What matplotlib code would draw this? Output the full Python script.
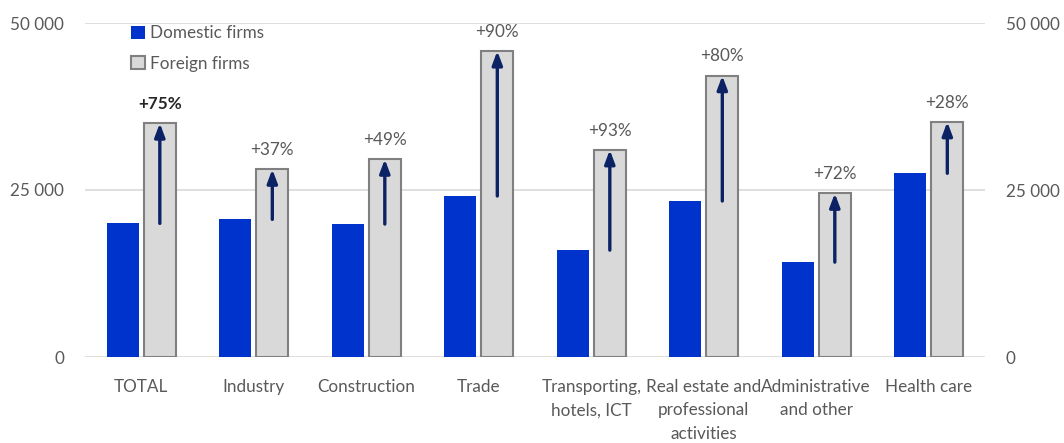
import numpy as np
import matplotlib.pyplot as plt
from matplotlib.ticker import FuncFormatter

categories = ["TOTAL", "Industry", "Construction", "Trade", "Transporting,\nhotels, ICT",
              "Real estate and\nprofessional\nactivities", "Administrative\nand other", "Health care"]
domestic = [20000, 20600, 19900, 24100, 16000, 23350, 14200, 27500]
foreign = [35000, 28100, 29600, 45800, 31000, 42100, 24500, 35200]
labels = ["+75%", "+37%", "+49%", "+90%", "+93%", "+80%", "+72%", "+28%"]

plt.rcParams['font.family'] = ['Lato', 'DejaVu Sans']
GREY = "#595959"
FS = 12.3

fig = plt.figure(figsize=(10.64, 4.43), dpi=100)
ax = fig.add_axes([85 / 1064, 1 - 357 / 443, 900 / 1064, 334 / 443])

x = np.arange(len(categories))
w = 0.285
ax.bar(x - 0.165, domestic, w, color="#0033CC", label="Domestic firms", zorder=2)
ax.bar(x + 0.165, foreign, w, color="#D9D9D9", edgecolor="#808080", linewidth=1.5,
       label="Foreign firms", zorder=2)

for i in range(len(x)):
    ax.annotate("", xy=(x[i] + 0.165, foreign[i]), xytext=(x[i] + 0.165, domestic[i]),
                arrowprops=dict(arrowstyle="-|>,head_length=0.8,head_width=0.3",
                                color="#0B2265", lw=2.4, shrinkA=0, shrinkB=0), zorder=3)
    ax.text(x[i] + 0.165, foreign[i] + 1700, labels[i], ha="center", va="bottom",
            fontsize=FS, color="#262626" if i == 0 else GREY,
            fontweight="bold" if i == 0 else "normal")

ax.set_xlim(-0.5, 7.5)
ax.set_ylim(0, 50000)
ax.set_yticks([0, 25000, 50000])
fmt = FuncFormatter(lambda v, p: f"{int(v):,}".replace(",", " "))
ax.yaxis.set_major_formatter(fmt)
ax.grid(axis="y", color="#D9D9D9", linewidth=1.2, zorder=0)
ax.set_axisbelow(True)
for s in ax.spines.values():
    s.set_visible(False)
ax.tick_params(axis="y", length=0, pad=15, labelsize=FS, labelcolor=GREY)
ax.tick_params(axis="x", length=0, pad=16, labelsize=FS, labelcolor=GREY)
ax.set_xticks(x)
ax.set_xticklabels(categories, linespacing=1.55, va="top")

ax2 = ax.twinx()
ax2.set_ylim(0, 50000)
ax2.set_yticks([0, 25000, 50000])
ax2.yaxis.set_major_formatter(fmt)
ax2.tick_params(axis="y", length=0, pad=15, labelsize=FS, labelcolor=GREY)
for s in ax2.spines.values():
    s.set_visible(False)

ax.legend(loc="upper left", bbox_to_anchor=(0.044, 1.014), frameon=False, fontsize=FS,
          labelcolor=GREY, handlelength=0.8, handleheight=0.8, handletextpad=0.3,
          labelspacing=0.85, borderaxespad=0)

fig.savefig("out.png", dpi=100)
